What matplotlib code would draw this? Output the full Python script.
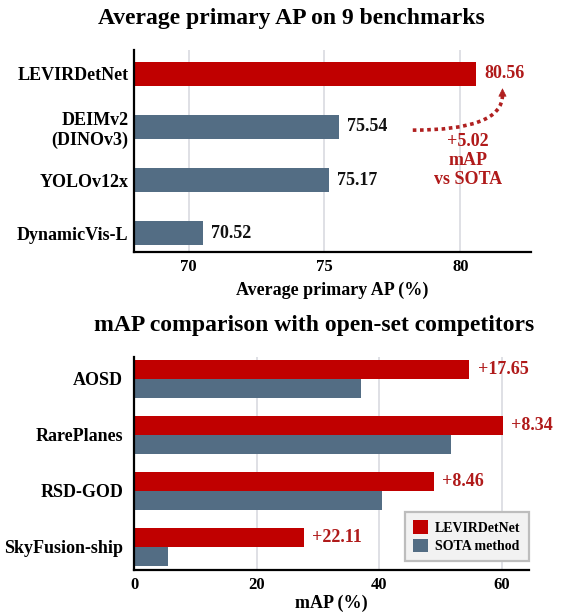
import matplotlib.pyplot as plt
import numpy as np

plt.rcParams['font.family'] = ['Liberation Serif', 'DejaVu Serif']
plt.rcParams['font.weight'] = 'bold'
plt.rcParams['axes.labelweight'] = 'bold'

RED = '#c00000'
SLATE = '#536d84'
TXT_RED = '#b01a1a'

# top panel: average primary AP on 9 benchmarks
models = ['LEVIRDetNet', 'DEIMv2\n(DINOv3)', 'YOLOv12x', 'DynamicVis-L']
avg_ap = [80.56, 75.54, 75.17, 70.52]

# bottom panel: open-set comparison
datasets = ['AOSD', 'RarePlanes', 'RSD-GOD', 'SkyFusion-ship']
levir_map = [54.7, 60.1, 48.9, 27.65]
sota_map = [37.05, 51.76, 40.44, 5.54]
gain_labels = ['+17.65', '+8.34', '+8.46', '+22.11']

fig = plt.figure(figsize=(5.7, 6.15), dpi=100)

def style_axes(ax):
    for s in ['top', 'right']:
        ax.spines[s].set_visible(False)
    for s in ['left', 'bottom']:
        ax.spines[s].set_linewidth(1.6)
    ax.grid(axis='x', color='#dcdde3', linewidth=1.3)
    ax.set_axisbelow(True)
    ax.tick_params(length=0)

# ---- top chart
ax1 = fig.add_axes([0.2354, 0.5907, 0.6962, 0.328])
y1 = np.arange(len(models))
colors = [RED] + [SLATE] * (len(models) - 1)
ax1.barh(y1, avg_ap, height=0.44, color=colors)
ax1.set_xlim(68, 82.6)
ax1.set_ylim(3.35, -0.45)
ax1.set_yticks(y1)
ax1.set_yticklabels(models, fontsize=13)
ax1.tick_params(axis='y', pad=4)
ax1.set_xticks([70, 75, 80])
ax1.tick_params(axis='x', labelsize=12, pad=5)
ax1.set_xlabel('Average primary AP (%)', fontsize=13, labelpad=5)
style_axes(ax1)
for i, v in enumerate(avg_ap):
    ax1.annotate(f'{v:.2f}', (v, i), xytext=(6, 0), textcoords='offset points',
                 va='center', ha='left', fontsize=13,
                 color=TXT_RED if i == 0 else '#111111')

# dotted curved arrow: line first, then a solid head
ax1.annotate('', xy=(81.55, 0.40), xytext=(78.25, 1.06),
             arrowprops=dict(arrowstyle='-', linestyle=(0, (1, 1)), lw=2.6,
                             color='#b02020', shrinkA=0, shrinkB=0,
                             capstyle='butt',
                             connectionstyle='angle3,angleA=0,angleB=90'))
ax1.annotate('', xy=(81.55, 0.27), xytext=(81.55, 0.42),
             arrowprops=dict(arrowstyle='-|>', lw=0.5, color='#b02020',
                             mutation_scale=13, shrinkA=0, shrinkB=0))
ax1.text(80.27, 1.63, '+5.02\nmAP\nvs SOTA', ha='center', va='center',
         fontsize=13, color=TXT_RED, linespacing=1.15)

fig.text(0.5105, 0.970, 'Average primary AP on 9 benchmarks',
         ha='center', va='center', fontsize=17)

# ---- bottom chart
ax2 = fig.add_axes([0.2354, 0.0732, 0.6926, 0.3468])
y2 = np.arange(len(datasets))
h = 0.34
ax2.barh(y2 - h / 2, levir_map, height=h, color=RED, label='LEVIRDetNet')
ax2.barh(y2 + h / 2, sota_map, height=h, color=SLATE, label='SOTA method')
ax2.set_xlim(0, 64.4)
ax2.set_ylim(3.41, -0.39)
ax2.set_yticks(y2)
ax2.set_yticklabels(datasets, fontsize=13)
ax2.tick_params(axis='y', pad=8)
ax2.set_xticks([0, 20, 40, 60])
ax2.tick_params(axis='x', labelsize=12, pad=5)
ax2.set_xlabel('mAP (%)', fontsize=13, labelpad=1)
style_axes(ax2)
for i, (v, g) in enumerate(zip(levir_map, gain_labels)):
    ax2.annotate(g, (v, i - h / 2), xytext=(6, 0), textcoords='offset points',
                 va='center', ha='left', fontsize=13, color=TXT_RED)

leg = ax2.legend(loc='lower right', bbox_to_anchor=(1.0, 0.04), borderaxespad=0,
                 fontsize=10, fancybox=False, framealpha=1, handlelength=1.1,
                 handleheight=1.1, labelspacing=0.3, handletextpad=0.5,
                 borderpad=0.6)
leg.get_frame().set_facecolor('#f2f2f2')
leg.get_frame().set_edgecolor('#bdbdbd')
leg.get_frame().set_linewidth(1.6)

fig.text(0.5505, 0.4715, 'mAP comparison with open-set competitors',
         ha='center', va='center', fontsize=17)

fig.savefig('out.png', dpi=100)
